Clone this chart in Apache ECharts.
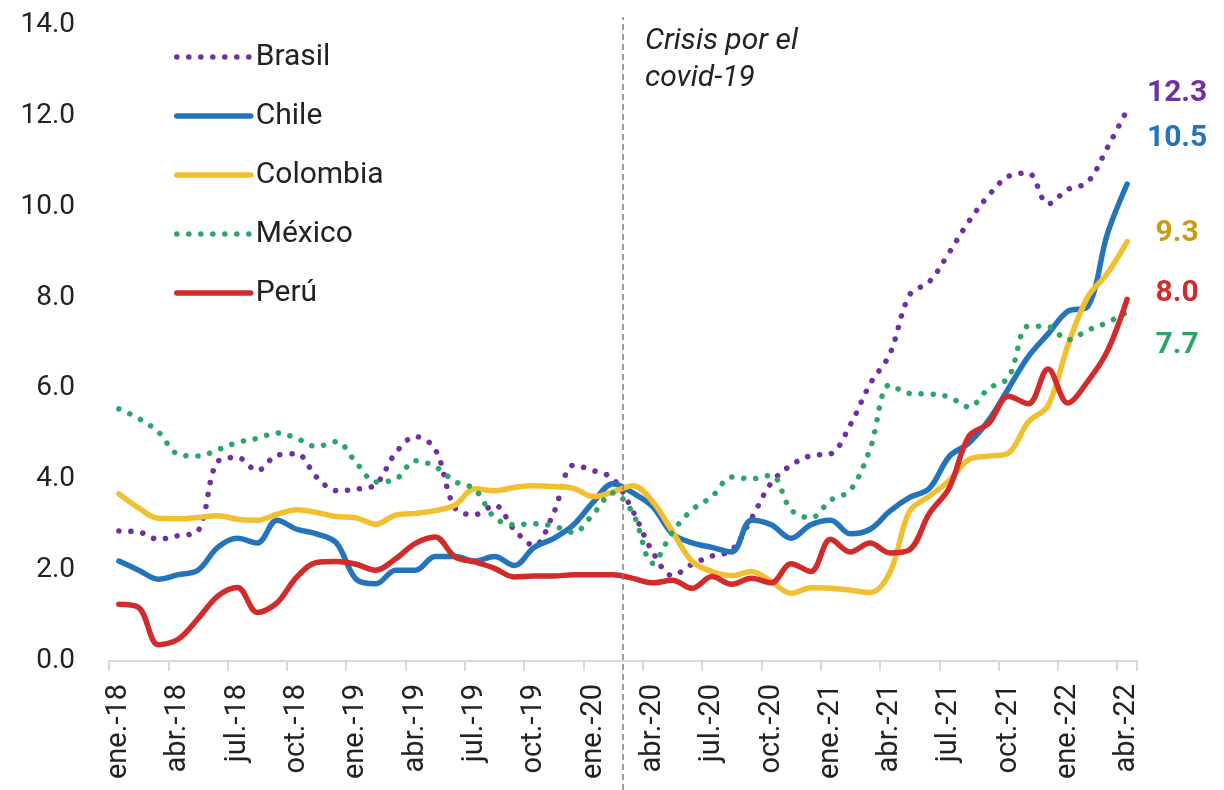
<!DOCTYPE html>
<html>
<head>
<meta charset="utf-8">
<script src="https://cdn.jsdelivr.net/npm/echarts@6/dist/echarts.min.js"></script>
<style>
html,body{margin:0;padding:0;background:#fff;}
#chart{width:1224px;height:790px;}
</style>
</head>
<body>
<div id="chart"></div>
<script>
const months = [
  'ene.-18','feb.-18','mar.-18','abr.-18','may.-18','jun.-18','jul.-18','ago.-18','sep.-18','oct.-18','nov.-18','dic.-18',
  'ene.-19','feb.-19','mar.-19','abr.-19','may.-19','jun.-19','jul.-19','ago.-19','sep.-19','oct.-19','nov.-19','dic.-19',
  'ene.-20','feb.-20','mar.-20','abr.-20','may.-20','jun.-20','jul.-20','ago.-20','sep.-20','oct.-20','nov.-20','dic.-20',
  'ene.-21','feb.-21','mar.-21','abr.-21','may.-21','jun.-21','jul.-21','ago.-21','sep.-21','oct.-21','nov.-21','dic.-21',
  'ene.-22','feb.-22','mar.-22','abr.-22'
];
const brasil = [
  2.86,2.84,2.68,2.76,2.86,4.39,4.48,4.19,4.53,4.56,4.05,3.75,
  3.78,3.89,4.58,4.94,4.66,3.37,3.22,3.43,2.89,2.54,3.27,4.31,
  4.19,4.01,3.30,2.40,1.88,2.13,2.31,2.44,3.14,3.92,4.31,4.52,
  4.56,5.20,6.10,6.76,8.06,8.35,8.99,9.68,10.25,10.67,10.74,10.06,
  10.38,10.54,11.30,12.13
];
const chile = [
  2.2,2.0,1.8,1.9,2.0,2.5,2.7,2.6,3.1,2.9,2.8,2.6,
  1.8,1.7,2.0,2.0,2.3,2.3,2.2,2.3,2.1,2.5,2.7,3.0,
  3.5,3.9,3.7,3.4,2.8,2.6,2.5,2.4,3.1,3.0,2.7,3.0,
  3.1,2.8,2.9,3.3,3.6,3.8,4.5,4.8,5.3,6.0,6.7,7.2,
  7.7,7.8,9.4,10.5
];
const colombia = [
  3.68,3.37,3.14,3.13,3.16,3.20,3.12,3.10,3.23,3.33,3.27,3.18,
  3.15,3.01,3.21,3.25,3.31,3.43,3.79,3.75,3.82,3.86,3.84,3.80,
  3.62,3.72,3.86,3.51,2.85,2.19,1.97,1.88,1.97,1.75,1.49,1.61,
  1.60,1.56,1.51,1.95,3.30,3.63,3.97,4.44,4.51,4.58,5.26,5.62,
  6.94,8.01,8.53,9.23
];
const mexico = [
  5.55,5.34,5.04,4.55,4.51,4.65,4.81,4.90,5.02,4.90,4.72,4.83,
  4.37,3.94,4.00,4.41,4.28,3.95,3.78,3.16,3.00,3.02,2.97,2.83,
  3.24,3.70,3.25,2.15,2.84,3.33,3.62,4.05,4.01,4.09,3.33,3.15,
  3.54,3.76,4.67,6.08,5.89,5.88,5.81,5.59,6.00,6.24,7.37,7.36,
  7.07,7.28,7.45,7.68
];
const peru = [
  1.25,1.18,0.36,0.48,0.93,1.43,1.62,1.07,1.28,1.85,2.17,2.19,
  2.13,2.00,2.25,2.59,2.73,2.29,2.18,2.04,1.85,1.87,1.87,1.90,
  1.90,1.90,1.82,1.72,1.78,1.60,1.86,1.69,1.82,1.72,2.14,1.97,
  2.68,2.40,2.60,2.38,2.45,3.25,3.81,4.95,5.23,5.83,5.66,6.43,
  5.68,6.15,6.82,7.96
];
const seriesNames = ['Brasil', 'Chile', 'Colombia', 'México', 'Perú'];
const endLabels = { 'Brasil': '12.3', 'Chile': '10.5', 'Colombia': '9.3', 'México': '7.7', 'Perú': '8.0' };
const crisisMonth = 26; // months since start of ene.-18
const yTicks = [0, 2, 4, 6, 8, 10, 12, 14];

const FONT = 'Roboto, "DejaVu Sans", sans-serif';
const chart = echarts.init(document.getElementById('chart'), null, { renderer: 'canvas' });

function mk(name, data, color, dotted, labelColor, dy) {
  return {
    name, type: 'line', data, smooth: 0.35, symbol: 'none',
    xAxisIndex: 0, yAxisIndex: 0,
    lineStyle: dotted
      ? { color, width: 5.5, type: [0.1, 11.9], cap: 'round' }
      : { color, width: 5.5, cap: 'round' },
    itemStyle: { color },
    emphasis: { disabled: true },
    endLabel: {
      show: true,
      formatter: () => endLabels[name],
      color: labelColor,
      fontFamily: FONT,
      fontWeight: 'bold',
      fontSize: 30,
      distance: 50,
      align: 'center',
      offset: [0, dy]
    },
    z: 3
  };
}

chart.setOption({
  animation: false,
  backgroundColor: '#fff',
  grid: [
    { left: 109, right: 87, top: 25, bottom: 129, containLabel: false },
    { left: 109, right: 87, top: 17, bottom: 0, containLabel: false }
  ],
  legend: {
    orient: 'vertical', left: 169, top: 37,
    itemWidth: 74, itemHeight: 14, itemGap: 29,
    itemStyle: { opacity: 0 },
    lineStyle: { width: 5.5, cap: 'round' },
    textStyle: { fontFamily: FONT, fontSize: 30, color: '#222', padding: [0, 0, 0, 0] },
    data: seriesNames
  },
  xAxis: [
    {
      type: 'category', gridIndex: 0, data: months, boundaryGap: true,
      axisLine: { lineStyle: { color: '#d9d9d9', width: 2 } },
      axisTick: { show: true, interval: 2, length: 10, lineStyle: { color: '#d9d9d9', width: 2 } },
      axisLabel: { interval: 2, rotate: 90, margin: 23, fontFamily: FONT, fontSize: 29, color: '#222' },
      splitLine: { show: false }
    },
    { type: 'value', gridIndex: 1, min: 0, max: months.length, show: false }
  ],
  yAxis: [
    {
      type: 'value', gridIndex: 0, min: yTicks[0], max: yTicks[yTicks.length - 1], interval: 2,
      axisLine: { show: false }, axisTick: { show: false }, splitLine: { show: false },
      axisLabel: { margin: 34, fontFamily: FONT, fontSize: 28, color: '#222', formatter: v => v.toFixed(1) }
    },
    { type: 'value', gridIndex: 1, min: 0, max: 1, show: false }
  ],
  graphic: [
    {
      type: 'text', left: 645, top: 23,
      style: { text: 'Crisis por el\ncovid-19', fontFamily: FONT, fontStyle: 'italic', fontSize: 30, lineHeight: 37, fill: '#222' }
    }
  ],
  series: [
    {
      name: 'crisis', type: 'line', xAxisIndex: 1, yAxisIndex: 1, data: [], symbol: 'none',
      markLine: {
        silent: true, symbol: 'none', animation: false,
        label: { show: false },
        lineStyle: { color: '#7f7f7f', width: 1.5, type: [6, 4] },
        data: [{ xAxis: crisisMonth }]
      }
    },
    mk('Brasil', brasil, '#7030a0', true, '#7030a0', -16),
    mk('Chile', chile, '#2474bc', false, '#2474bc', -46),
    mk('Colombia', colombia, '#f2bf30', false, '#c99c14', -8),
    mk('México', mexico, '#2aa66b', true, '#2aa66b', 33),
    mk('Perú', peru, '#d12b2b', false, '#d12b2b', -6)
  ]
});
</script>
</body>
</html>
